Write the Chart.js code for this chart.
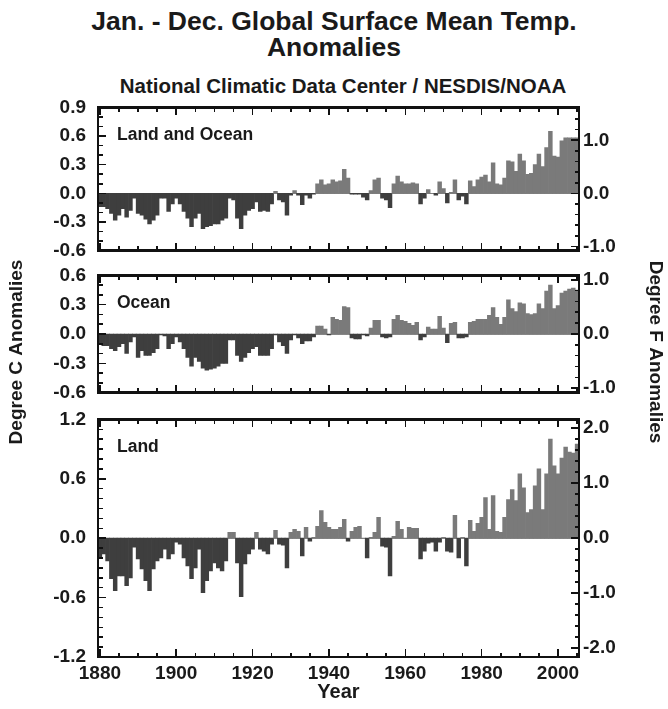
<!DOCTYPE html>
<html>
<head>
<meta charset="utf-8">
<script src="https://cdn.jsdelivr.net/npm/chart.js@4.4.0/dist/chart.umd.min.js"></script>
<style>
  body { margin: 0; background: #fff; width: 668px; height: 709px; position: relative; overflow: hidden;
         font-family: "Liberation Sans", Arial, sans-serif; color: #1a1a1a; }
  .t { position: absolute; left: 0; width: 668px; text-align: center; font-weight: bold; }
  canvas { position: absolute; left: 0; }
  .layer { position: absolute; left: 0; top: 0; width: 668px; height: 709px; pointer-events: none; }
  .layer div { position: absolute; }
</style>
</head>
<body>
<div class="t" style="top:8px; font-size:26.5px; line-height:26px;">Jan. - Dec. Global Surface Mean Temp.<br>Anomalies</div>
<div class="t" style="top:76px; left:9px; font-size:20.5px; line-height:20px;">National Climatic Data Center / NESDIS/NOAA</div>
<div id="under" class="layer"></div>
<canvas id="side" width="668" height="709" style="top:0"></canvas>
<canvas id="c1" width="668" height="190" style="top:84px"></canvas>
<canvas id="c2" width="668" height="164" style="top:252px"></canvas>
<canvas id="c3" width="668" height="309" style="top:396px"></canvas>
<div id="over" class="layer"></div>
<script>
const years = Array.from({ length: 126 }, (_, i) => 1880 + i);

// annual anomalies, deg C, 1880-2005
const landOcean = [
  -0.14, -0.14, -0.16, -0.21, -0.28, -0.23, -0.16, -0.25, -0.18, -0.05,
  -0.21, -0.23, -0.27, -0.32, -0.28, -0.23, -0.05, -0.05, -0.19, -0.11,
  -0.05, -0.11, -0.19, -0.26, -0.35, -0.26, -0.21, -0.37, -0.35, -0.34,
  -0.32, -0.32, -0.28, -0.26, -0.05, -0.07, -0.26, -0.37, -0.23, -0.18,
  -0.16, -0.09, -0.19, -0.18, -0.19, -0.11, 0.02, -0.07, -0.09, -0.23,
  -0.02, 0.03, -0.02, -0.12, -0.02, -0.05, -0.01, 0.10, 0.14, 0.09,
  0.10, 0.14, 0.12, 0.13, 0.25, 0.16, -0.01, -0.01, -0.01, -0.04,
  -0.07, 0.03, 0.14, 0.16, -0.05, -0.07, -0.15, 0.10, 0.18, 0.12,
  0.10, 0.10, 0.11, 0.10, -0.11, -0.05, 0.04, 0.00, -0.02, 0.12,
  0.05, -0.10, 0.01, 0.14, -0.07, -0.03, -0.11, 0.13, 0.07, 0.14,
  0.17, 0.19, 0.12, 0.32, 0.10, 0.09, 0.16, 0.34, 0.33, 0.23,
  0.41, 0.34, 0.20, 0.21, 0.30, 0.41, 0.28, 0.48, 0.65, 0.39,
  0.38, 0.55, 0.58, 0.58, 0.58, 0.58
];

const ocean = [
  -0.10, -0.12, -0.12, -0.15, -0.17, -0.13, -0.10, -0.20, -0.08, -0.03,
  -0.24, -0.17, -0.22, -0.22, -0.19, -0.15, -0.01, -0.02, -0.15, -0.10,
  -0.03, -0.08, -0.15, -0.24, -0.33, -0.24, -0.28, -0.35, -0.37, -0.36,
  -0.35, -0.33, -0.30, -0.30, -0.06, -0.06, -0.22, -0.28, -0.24, -0.19,
  -0.15, -0.13, -0.22, -0.22, -0.22, -0.15, -0.01, -0.08, -0.12, -0.20,
  -0.06, -0.01, -0.04, -0.10, -0.07, -0.07, -0.03, 0.08, 0.08, 0.05,
  -0.01, 0.17, 0.15, 0.14, 0.28, 0.27, -0.04, -0.05, -0.05, -0.01,
  -0.02, 0.06, 0.14, 0.14, -0.03, -0.04, -0.03, 0.15, 0.19, 0.14,
  0.13, 0.11, 0.09, 0.12, -0.06, -0.03, 0.07, 0.05, 0.05, 0.18,
  0.06, -0.09, 0.11, 0.12, -0.04, -0.04, -0.03, 0.12, 0.13, 0.15,
  0.15, 0.15, 0.19, 0.27, 0.17, 0.10, 0.17, 0.35, 0.26, 0.23,
  0.32, 0.31, 0.21, 0.20, 0.21, 0.31, 0.26, 0.44, 0.50, 0.26,
  0.29, 0.42, 0.44, 0.46, 0.47, 0.45
];

const land = [
  -0.20, -0.16, -0.23, -0.41, -0.53, -0.38, -0.38, -0.48, -0.40, -0.09,
  -0.21, -0.31, -0.43, -0.53, -0.31, -0.23, -0.20, -0.11, -0.21, -0.16,
  -0.04, -0.06, -0.20, -0.28, -0.41, -0.30, -0.11, -0.55, -0.43, -0.33,
  -0.25, -0.30, -0.33, -0.23, 0.06, 0.06, -0.25, -0.59, -0.26, -0.16,
  -0.11, 0.06, -0.11, -0.13, -0.16, -0.06, 0.08, -0.06, -0.07, -0.30,
  0.06, 0.09, 0.07, -0.18, 0.11, -0.03, 0.01, 0.12, 0.28, 0.16,
  0.11, 0.09, 0.09, 0.11, 0.19, -0.03, 0.07, 0.11, 0.12, 0.00,
  -0.20, 0.01, 0.06, 0.21, -0.08, -0.09, -0.38, 0.02, 0.17, 0.09,
  0.00, 0.11, 0.10, 0.10, -0.21, -0.13, -0.05, -0.04, -0.13, -0.04,
  0.01, -0.13, -0.14, 0.23, -0.20, 0.01, -0.28, 0.18, 0.07, 0.15,
  0.21, 0.41, 0.09, 0.43, 0.07, 0.06, 0.21, 0.39, 0.49, 0.38,
  0.65, 0.51, 0.26, 0.29, 0.53, 0.70, 0.29, 0.65, 1.00, 0.73,
  0.65, 0.81, 0.92, 0.87, 0.86, 0.95
];

// tick labels
const yearTicks = [1880, 1900, 1920, 1940, 1960, 1980, 2000];
const ticksC1 = [-0.6, -0.3, 0, 0.3, 0.6, 0.9];
const ticksC2 = [-0.6, -0.3, 0, 0.3, 0.6];
const ticksC3 = [-1.2, -0.6, 0, 0.6, 1.2];
const ticksF1 = [-1, 0, 1];
const ticksF2 = [-1, 0, 1];
const ticksF3 = [-2, -1, 0, 1, 2];

const FONT = '"Liberation Sans", Arial, sans-serif';
Chart.defaults.font.family = FONT;
Chart.defaults.font.weight = 'bold';
Chart.defaults.font.size = 19;
Chart.defaults.color = '#1a1a1a';

// side titles, shared by the three panels
const sctx = document.getElementById('side').getContext('2d');
sctx.font = 'bold 19px ' + FONT;
sctx.fillStyle = '#1a1a1a';
sctx.textAlign = 'center';
sctx.textBaseline = 'middle';
sctx.save(); sctx.translate(17, 352); sctx.rotate(-Math.PI / 2); sctx.fillText('Degree C Anomalies', 0, 0); sctx.restore();
sctx.save(); sctx.translate(655, 352); sctx.rotate(Math.PI / 2); sctx.fillText('Degree F Anomalies', 0, 0); sctx.restore();

// panel label inside the plot
const labelPlugin = {
  id: 'panelLabel',
  afterDatasetsDraw(chart, args, opts) {
    const { ctx, chartArea: a } = chart;
    ctx.save();
    ctx.fillStyle = '#1a1a1a';
    ctx.font = 'bold 17.5px ' + FONT;
    ctx.textBaseline = 'middle';
    ctx.fillText(opts.text, a.left + 19, a.top + 28);
    ctx.restore();
  }
};

// frame, inward ticks and zero line, placed from the chart's own scales
function addFrame(chart, top, majorC) {
  const a = chart.chartArea;
  const sx = chart.scales.x, yc = chart.scales.y, yf = chart.scales.y2;
  const piece = (layer, x, y, w, h, col) => {
    const d = document.createElement('div');
    d.style.left = x + 'px';
    d.style.top = (top + y) + 'px';
    d.style.width = w + 'px';
    d.style.height = h + 'px';
    d.style.background = col;
    document.getElementById(layer).appendChild(d);
  };
  const ink = '#111';
  const tw = 1.6;
  piece('under', a.left, yc.getPixelForValue(0) - 0.5, a.right - a.left, 1, '#8c8c8c');
  years.forEach((yr, i) => {
    if (yr % 5 !== 0) return;
    const x = sx.getPixelForValue(i);
    const len = yr % 20 === 0 ? 8 : 4.5;
    piece('over', x - tw / 2, a.top, tw, len, ink);
    piece('over', x - tw / 2, a.bottom - len, tw, len, ink);
  });
  for (let k = Math.round(yc.min * 10); k <= Math.round(yc.max * 10); k++) {
    const len = k % majorC === 0 ? 8 : 4.5;
    piece('over', a.left, yc.getPixelForValue(k / 10) - tw / 2, len, tw, ink);
  }
  for (let k = Math.ceil(yf.min * 5); k <= Math.floor(yf.max * 5); k++) {
    const len = k % 5 === 0 ? 8 : 4.5;
    piece('over', a.right - len, yf.getPixelForValue(k / 5) - tw / 2, len, tw, ink);
  }
  const bw = 2.6;
  piece('over', a.left - bw / 2, a.top - bw / 2, a.right - a.left + bw, bw, ink);
  piece('over', a.left - bw / 2, a.bottom - bw / 2, a.right - a.left + bw, bw, ink);
  piece('over', a.left - bw / 2, a.top - bw / 2, bw, a.bottom - a.top + bw, ink);
  piece('over', a.right - bw / 2, a.top - bw / 2, bw, a.bottom - a.top + bw, ink);
}

function makePanel(id, top, values, label, cMin, cMax, cTicks, fTicks, majorC, bottom) {
  const chart = new Chart(document.getElementById(id), {
    type: 'bar',
    data: {
      labels: years,
      datasets: [{
        data: values,
        backgroundColor: c => (c.raw < 0 ? '#3e3e3e' : '#7a7a7a'),
        borderWidth: 0,
        barPercentage: 1,
        categoryPercentage: 1
      }]
    },
    options: {
      responsive: false,
      animation: false,
      devicePixelRatio: 1,
      layout: { padding: 0 },
      plugins: {
        legend: { display: false },
        tooltip: { enabled: false },
        panelLabel: { text: label }
      },
      scales: {
        x: {
          display: bottom,
          offset: true,
          grid: { display: false, drawTicks: false },
          border: { display: false },
          afterBuildTicks: s => { s.ticks = s.ticks.filter(t => yearTicks.includes(years[t.value])); },
          afterFit: s => { if (bottom) s.height = 48; },
          ticks: { autoSkip: false, maxRotation: 0, padding: 5 },
          title: { display: bottom, text: 'Year', font: { size: 20 }, padding: { top: 0, bottom: 1 } }
        },
        y: {
          position: 'left',
          min: cMin,
          max: cMax,
          grid: { display: false, drawTicks: false },
          border: { display: false },
          afterBuildTicks: s => { s.ticks = cTicks.map(v => ({ value: v })); },
          afterFit: s => { s.width = 98; },
          ticks: { padding: 12, callback: v => v.toFixed(1) }
        },
        y2: {
          position: 'right',
          min: cMin * 1.8,
          max: cMax * 1.8,
          grid: { display: false, drawTicks: false },
          border: { display: false },
          afterBuildTicks: s => { s.ticks = fTicks.map(v => ({ value: v })); },
          afterFit: s => { s.width = 89; },
          ticks: { padding: 4, callback: v => v.toFixed(1) }
        }
      }
    },
    plugins: [labelPlugin]
  });
  addFrame(chart, top, majorC);
}

makePanel('c1', 84, landOcean, 'Land and Ocean', -0.6, 0.9, ticksC1, ticksF1, 3, false);
makePanel('c2', 252, ocean, 'Ocean', -0.6, 0.6, ticksC2, ticksF2, 3, false);
makePanel('c3', 396, land, 'Land', -1.2, 1.2, ticksC3, ticksF3, 6, true);
</script>
</body>
</html>
